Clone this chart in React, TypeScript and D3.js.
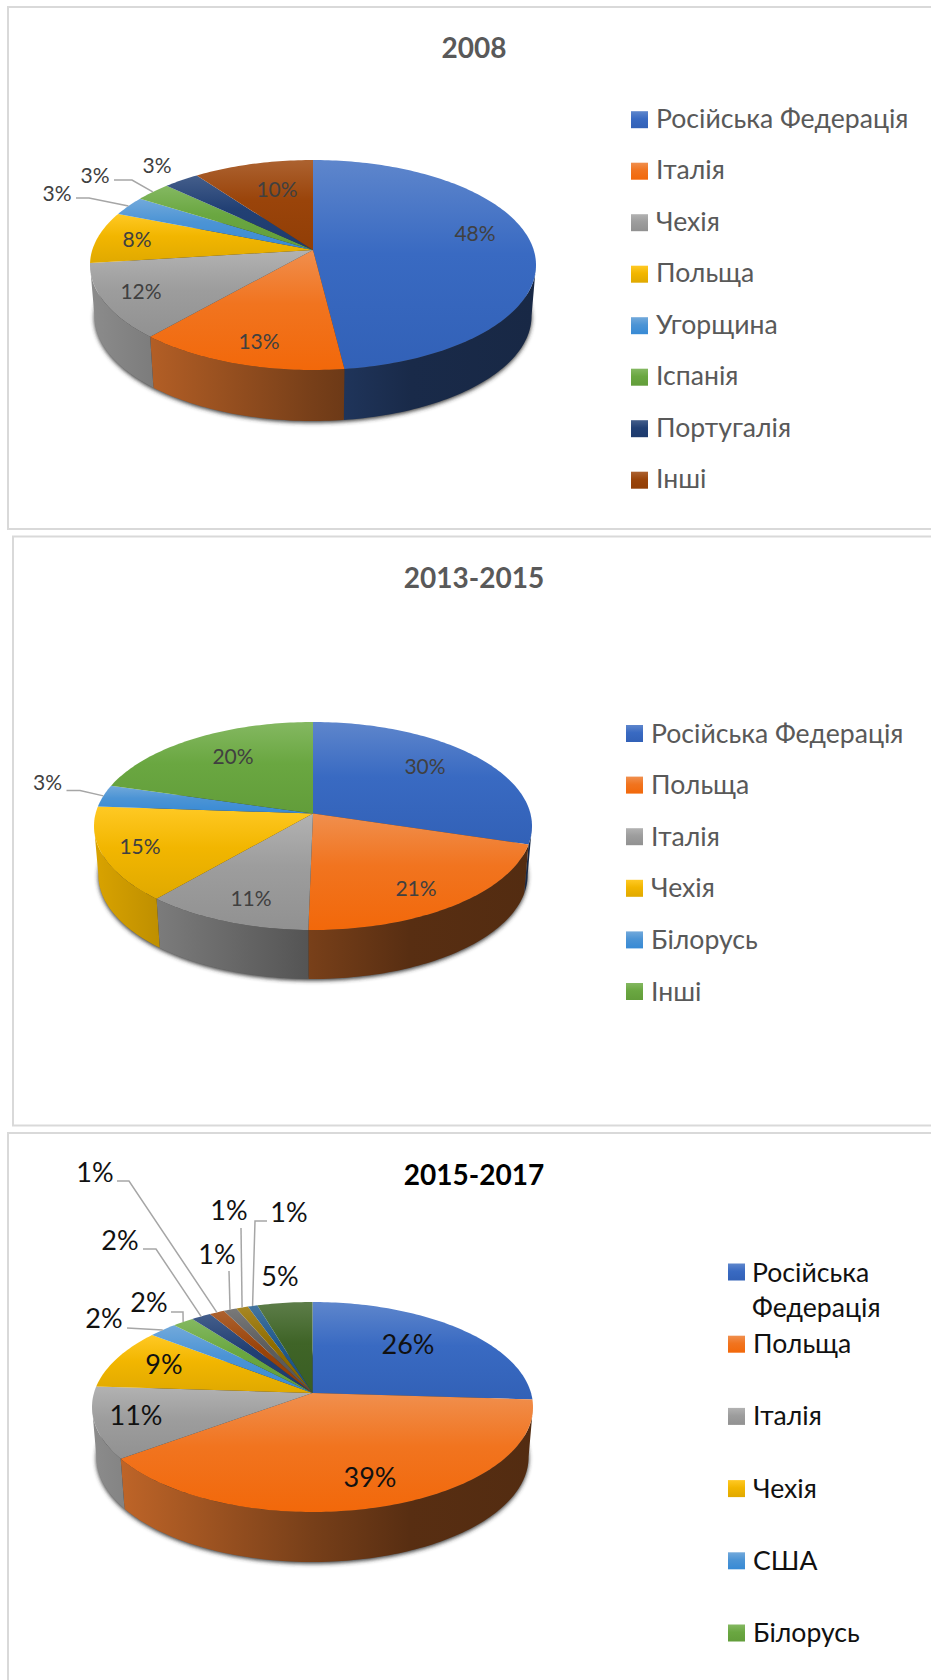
import React from 'react';
import * as d3 from 'd3';

// Data
const colors = ['#4472c4', '#ed7d31', '#a5a5a5', '#ffc000', '#5b9bd5', '#70ad47', '#264478', '#9e480e', '#636363', '#997300', '#255e91', '#43682b'];

const labels2008 = ['Російська Федерація', 'Італія', 'Чехія', 'Польща', 'Угорщина', 'Іспанія', 'Португалія', 'Інші'];
const values2008 = [48.1, 13.4, 11.6, 8, 3, 3, 3, 10];

const labels2013 = ['Російська Федерація', 'Польща', 'Італія', 'Чехія', 'Білорусь', 'Інші'];
const values2013 = [29.6, 20.5, 11, 14.7, 3.4, 20.4];

const labels2015 = ['Російська Федерація', 'Польща', 'Італія', 'Чехія', 'США', 'Білорусь'];
const values2015 = [26, 39, 11, 9.4, 2.4, 1.8, 1.65, 1.25, 1.1, 1, 0.8, 4.6];

// Layout of each panel, in page pixels
const panels = [
  {
    id: 'a', title: '2008', values: values2008, legend: labels2008,
    frame: { x: 8, y: 7, h: 522 },
    titleY: 47, titleColor: '#595959', textColor: '#404040', legendColor: '#595959',
    titleSize: 28, labelSize: 21, legendSize: 26.6,
    pie: { cx: 313, rx: 223, top: 160, apex: 250, bottom: 370, depth: 51 },
    legendX: 631, legendY: d3.range(8).map(i => 119.7 + i * 51.5), legendNudge: -2,
    labelPos: [[475, 232], [259, 340], [141, 290], [137, 238], [57, 192], [95, 174], [157, 164], [277, 188]],
    leaders: { 4: [[76, 198], [89, 198]], 5: [[114, 180], [132, 180]] } as Record<number, number[][]>,
  },
  {
    id: 'b', title: '2013-2015', values: values2013, legend: labels2013,
    frame: { x: 13, y: 536.5, h: 589 },
    titleY: 576.5, titleColor: '#595959', textColor: '#404040', legendColor: '#595959',
    titleSize: 28, labelSize: 21, legendSize: 26.6,
    pie: { cx: 313, rx: 219, top: 722, apex: 813.5, bottom: 930, depth: 49 },
    legendX: 626, legendY: d3.range(6).map(i => 733.5 + i * 51.6), legendNudge: -1,
    labelPos: [[425, 765], [416, 887], [251, 897], [140, 845], [47.5, 781], [233, 755]],
    leaders: { 4: [[66.5, 790.5], [80, 790.5]] } as Record<number, number[][]>,
  },
  {
    id: 'c', title: '2015-2017', values: values2015, legend: labels2015,
    frame: { x: 8, y: 1133, h: 560 },
    titleY: 1174, titleColor: '#000000', textColor: '#111111', legendColor: '#111111',
    titleSize: 28, labelSize: 27, legendSize: 26.6,
    pie: { cx: 312.5, rx: 220.5, top: 1302, apex: 1393, bottom: 1512, depth: 50 },
    legendX: 728, legendY: d3.range(6).map(i => 1272 + i * 72.2), legendNudge: -1,
    labelPos: [[408, 1343], [370, 1476], [136, 1414], [164, 1363], [104, 1317], [149, 1301], [120, 1239], [95, 1171], [217, 1253], [229, 1209], [289, 1211], [280, 1275]],
    leaders: {
      4: [[127, 1328]],
      5: [[171, 1312], [183, 1312]],
      6: [[143, 1249], [156, 1249]],
      7: [[117, 1181], [129, 1181]],
      8: [[229, 1271]],
      9: [[241, 1228]],
      10: [[267, 1221], [255, 1221]],
    } as Record<number, number[][]>,
  },
];

const FONT = 'Lato, "Open Sans", sans-serif';

// Perspective projection of the pie's unit circle on to the page:
// Y(v) = (a v + apex) / (1 + c v), through top at v=-1 and bottom at v=1
const makeProjection = ({ cx, rx, top, apex, bottom }: any) => {
  const c = (2 * apex - top - bottom) / (bottom - top);
  const a = bottom * (1 + c) - apex;
  const d = rx * Math.sqrt(1 - c * c);
  return {
    c,
    point: (theta: number, r = 1): [number, number] => {
      const u = Math.sin(theta) * r;
      const v = -Math.cos(theta) * r;
      const w = 1 + c * v;
      return [cx + d * u / w, (a * v + apex) / w];
    },
  };
};

const shade = (hex: string, f: number) => {
  const c = d3.rgb(hex);
  return d3.rgb(c.r * f, c.g * f, c.b * f).formatHex();
};
const tint = (hex: string, f: number) => d3.interpolateRgb(hex, '#ffffff')(f);
// richer version of a colour, for the lower part of the top face
const deepen = (hex: string, s: number, l: number) => {
  const c = d3.hsl(hex);
  return d3.hsl(c.h, Math.min(1, c.s * s), c.l * l).formatHex();
};

const line = d3.line();

const Panel = ({ p }: { p: typeof panels[number] }) => {
  const proj = makeProjection(p.pie);
  const arcs = d3.pie<number>().sort(null)(p.values);
  const sideMin = Math.acos(proj.c);
  const sideMax = 2 * Math.PI - sideMin;
  const inset = 0.98;
  const lower = ([x, y]: [number, number]): [number, number] => [p.pie.cx + (x - p.pie.cx) * inset, y + p.pie.depth];

  const arcPoints = (a0: number, a1: number) => {
    const n = Math.max(2, Math.ceil((a1 - a0) / 0.02));
    return d3.range(n + 1).map(i => proj.point(a0 + (a1 - a0) * i / n));
  };
  const outline = arcPoints(0, 2 * Math.PI).map(lower);

  return (
    <g>
      <defs>
        <filter id={`blur-${p.id}`} x="-10%" y="-10%" width="120%" height="120%">
          <feGaussianBlur stdDeviation="2.2" />
        </filter>
        {colors.map((col, i) => (
          <React.Fragment key={i}>
            <linearGradient id={`top-${p.id}-${i}`} x1="0" y1="0" x2="0" y2="1">
              <stop offset="0" stopColor={tint(col, 0.14)} />
              <stop offset="0.45" stopColor={deepen(col, 1.05, 0.95)} />
              <stop offset="1" stopColor={deepen(col, 1.1, 0.88)} />
            </linearGradient>
            <linearGradient id={`side-${p.id}-${i}`} gradientUnits="userSpaceOnUse"
              x1={p.pie.cx - p.pie.rx} y1="0" x2={p.pie.cx + p.pie.rx} y2="0">
              <stop offset="0" stopColor={shade(col, 0.85)} />
              <stop offset="0.5" stopColor={shade(col, 0.5)} />
              <stop offset="0.72" stopColor={shade(col, 0.37)} />
              <stop offset="1" stopColor={shade(col, 0.35)} />
            </linearGradient>
          </React.Fragment>
        ))}
      </defs>

      <rect x={p.frame.x} y={p.frame.y} width={960} height={p.frame.h} fill="#fff" stroke="#d9d9d9" strokeWidth={2} />
      <text x={474} y={p.titleY} textAnchor="middle" dominantBaseline="central"
        fontFamily={FONT} fontWeight={700} fontSize={p.titleSize} fill={p.titleColor}>{p.title}</text>

      {/* soft shadow under the rim */}
      <path d={line(outline) + 'Z'} transform="translate(0,1.5)" fill="#333" filter={`url(#blur-${p.id})`} />

      {/* rim, only the part that faces the viewer */}
      {arcs.map((a, i) => {
        const a0 = Math.max(a.startAngle, sideMin);
        const a1 = Math.min(a.endAngle, sideMax);
        if (a1 <= a0) return null;
        const upper = arcPoints(a0, a1);
        const pts = [...upper, ...upper.slice().reverse().map(lower)];
        return <path key={i} d={line(pts) + 'Z'} fill={`url(#side-${p.id}-${i})`} />;
      })}

      {/* top face */}
      {arcs.map((a, i) => {
        const pts = [proj.point(0, 0), ...arcPoints(a.startAngle, a.endAngle)];
        return <path key={i} d={line(pts) + 'Z'} fill={`url(#top-${p.id}-${i})`} />;
      })}

      {/* leader lines end on the middle of their slice's edge */}
      {Object.entries(p.leaders).map(([k, pts]) => {
        const a = arcs[+k];
        const end = proj.point((a.startAngle + a.endAngle) / 2);
        return <path key={k} d={line([...(pts as [number, number][]), end]) as string}
          fill="none" stroke="#a6a6a6" strokeWidth={1.5} />;
      })}

      {arcs.map((a, i) => (
        <text key={i} x={p.labelPos[i][0]} y={p.labelPos[i][1]} textAnchor="middle" dominantBaseline="central"
          fontFamily={FONT} fontSize={p.labelSize} fill={p.textColor}>{`${Math.round(a.data)}%`}</text>
      ))}

      {/* legend */}
      {p.legend.map((name, i) => {
        const y = p.legendY[i];
        const wrap = p.id === 'c' && i === 0;
        return (
          <g key={name}>
            <rect x={p.legendX} y={y - 8.5} width={17} height={17} fill={`url(#top-${p.id}-${i})`} />
            {wrap ? (
              <text fontFamily={FONT} fontSize={p.legendSize} fill={p.legendColor}>
                <tspan x={p.legendX + 24} y={y + 10}>Російська</tspan>
                <tspan x={p.legendX + 24} y={y + 45}>Федерація</tspan>
              </text>
            ) : (
              <text x={p.legendX + 25} y={y + p.legendNudge} dominantBaseline="central"
                fontFamily={FONT} fontSize={p.legendSize} fill={p.legendColor}>{name}</text>
            )}
          </g>
        );
      })}
    </g>
  );
};

export default function App() {
  return (
    <svg width={931} height={1680} style={{ position: 'absolute', left: 0, top: 0, background: '#fff' }}>
      {panels.map(p => <Panel key={p.id} p={p} />)}
    </svg>
  );
}
